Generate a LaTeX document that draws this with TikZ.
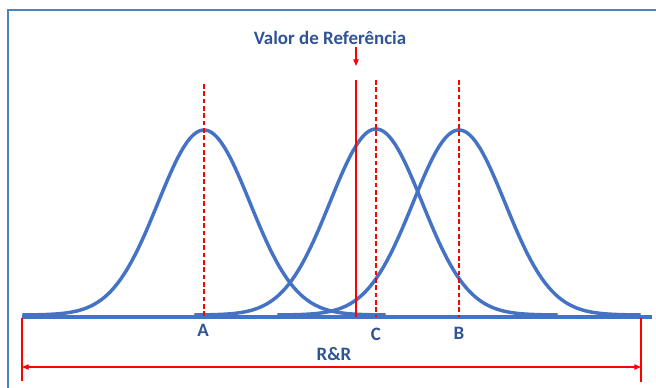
\documentclass[tikz,border=0pt]{standalone}
\usepackage{fontspec}
\setmainfont{Carlito}
\usepackage{xcolor}
\definecolor{rrblue}{RGB}{68,114,196}
\definecolor{rrframe}{RGB}{79,129,189}
\definecolor{rrtext}{RGB}{47,84,150}
\definecolor{rrred}{RGB}{255,0,0}
\usetikzlibrary{arrows.meta,positioning}

\begin{document}
\begin{tikzpicture}[x=0.75pt, y=-0.75pt,
        curve/.style={rrblue, line width=2.6pt},
        mark line/.style={rrred, line width=0.8pt, dash pattern=on 3.5pt off 2pt},
        ref line/.style={rrred, line width=0.8pt},
        dim line/.style={rrred, line width=0.8pt},
        darr/.style={{Triangle[length=5pt,width=4pt]}-{Triangle[length=5pt,width=4pt]}, rrred, line width=0.8pt},
        label/.style={font=\fontsize{14.2}{16}\selectfont\bfseries, text=rrtext, inner sep=0pt}
      ]
        \useasboundingbox (0,0) rectangle (656,387);

        % frame
        \draw[rrframe, line width=1.3pt] (8,400) -- (8,10) -- (670,10);

        % axis
        \coordinate (axl) at (22,317);
        \coordinate (axr) at (652,317);
        \draw[rrblue, line width=2.4pt] (axl) -- (axr);

        % distributions
        \draw[curve] plot[domain=-3.95:3.95, samples=120] ({204+46*\x}, {315-185*exp(-\x*\x/2)});
        \draw[curve] plot[domain=-3.95:3.95, samples=120] ({376+46*\x}, {315-186*exp(-\x*\x/2)});
        \draw[curve] plot[domain=-3.95:3.95, samples=120] ({459+46*\x}, {315-185*exp(-\x*\x/2)});

        % means
        \coordinate (topa) at (204,84);
        \coordinate (bota) at (204,317);
        \coordinate (topc) at (376,80);
        \coordinate (botc) at (376,317);
        \coordinate (topb) at (459,80);
        \coordinate (botb) at (459,317);
        \draw[mark line] (topa) -- (bota);
        \draw[mark line] (topc) -- (botc);
        \draw[mark line] (topb) -- (botb);

        % reference value
        \coordinate (topref) at (356,80);
        \coordinate (botref) at (356,317);
        \draw[ref line] (topref) -- (botref);
        \node[label] (refval) at (330,38) {Valor de Referência};
        \coordinate (arrs) at (356,47);
        \coordinate (arre) at (356,66);
        \draw[-{Triangle[length=5pt,width=4pt]}, rrred, line width=0.8pt] (arrs) -- (arre);

        \node[label] (la) at (203,330) {A};
        \node[label] (lc) at (376,334) {C};
        \node[label] (lb) at (459,333) {B};

        % R&R range
        \coordinate (ltop) at (22,318);
        \coordinate (lbot) at (22,381);
        \coordinate (rtop) at (641,318);
        \coordinate (rbot) at (641,382);
        \draw[dim line] (ltop) -- (lbot);
        \draw[dim line] (rtop) -- (rbot);
        \coordinate (dl) at (22,367);
        \coordinate (dr) at (641,367);
        \draw[darr] (dl) -- (dr);
        \node[label] (rr) at (334,354) {R\&R};
      \end{tikzpicture}
\end{document}
